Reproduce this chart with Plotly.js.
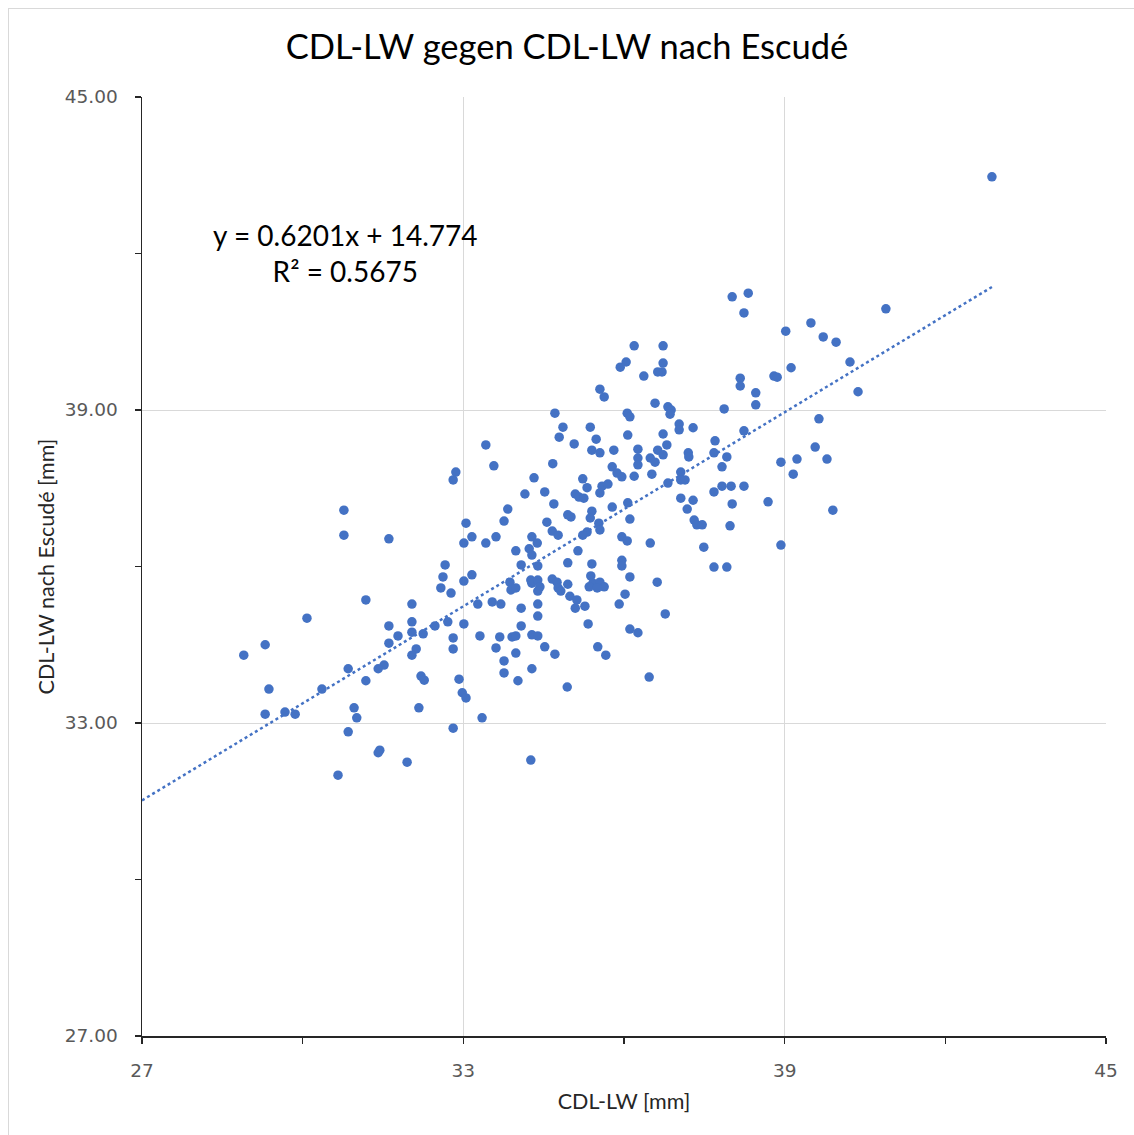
<!DOCTYPE html>
<html>
<head>
<meta charset="utf-8">
<script src="https://cdn.plot.ly/plotly-3.0.1.min.js"></script>
<style>
  html, body { margin: 0; padding: 0; background: #ffffff; }
  #wrap { position: relative; width: 1134px; height: 1135px; overflow: hidden; }
  #frame { position: absolute; left: 8px; top: 8px; width: 1140px; height: 1140px;
           border: 1.5px solid #d9d9d9; box-sizing: border-box; }
  #chart { position: absolute; left: 0; top: 0; width: 1134px; height: 1135px; }
</style>
</head>
<body>
<div id="wrap">
  <div id="frame"></div>
  <div id="chart"></div>
</div>
<script>
// CDL-LW measured (x) vs. CDL-LW after Escudé (y), in mm
const cdlLw = [
  30.77, 30.77, 31.61, 31.18, 30.08, 31.61, 29.30, 28.90, 31.61, 30.85, 31.52, 31.41,
  31.18, 29.37, 30.36, 29.30, 29.67, 29.86, 30.96, 31.01, 30.85, 31.44, 31.41, 30.66,
  31.95, 33.42, 33.57, 32.86, 32.81, 34.32, 34.15, 33.83, 33.76, 33.05, 33.16, 33.01,
  33.42, 33.61, 34.28, 33.98, 34.23, 34.28, 32.66, 32.62, 34.08, 32.58, 32.77, 33.01,
  33.16, 33.87, 33.89, 33.98, 34.28, 32.04, 33.27, 33.54, 33.70, 34.08, 32.04, 32.04,
  32.25, 32.47, 32.71, 33.01, 34.08, 34.28, 31.78, 32.81, 33.31, 33.68, 33.91, 33.98,
  32.12, 32.04, 32.81, 33.61, 33.98, 33.76, 33.76, 34.28, 32.21, 32.27, 32.92, 34.02,
  32.98, 33.05, 32.17, 33.35, 32.81, 34.26,
  35.55, 35.63, 34.71, 34.86, 34.79, 35.37, 35.07, 35.48, 35.40, 35.55, 35.81, 34.67,
  35.78, 35.87, 35.23, 35.31, 35.59, 35.70, 35.55, 34.52, 35.09, 35.16, 35.25, 34.69,
  35.78, 35.40, 35.37, 34.95, 35.01, 34.56, 35.53, 35.55, 34.66, 34.77, 35.31, 35.23,
  34.38, 35.14, 34.39, 34.95, 35.40, 35.96, 35.96, 34.26, 34.39, 34.43, 34.39, 34.66,
  34.75, 34.77, 34.82, 34.95, 35.38, 35.42, 35.35, 35.55, 35.63, 35.50, 34.99, 35.12,
  35.27, 35.09, 36.02, 35.91, 34.39, 34.39, 35.33, 34.39, 34.52, 34.71, 35.51, 35.66,
  34.94,
  36.19, 36.73, 36.04, 35.93, 36.73, 36.71, 36.63, 36.37, 36.58, 36.82, 36.88, 36.86,
  36.06, 36.11, 37.03, 37.03, 37.29, 36.07, 36.73, 36.80, 36.26, 36.26, 36.26, 36.63,
  36.73, 36.49, 36.58, 37.20, 37.21, 37.70, 37.68, 35.96, 36.19, 36.52, 37.06, 37.06,
  37.14, 36.82, 37.68, 37.06, 37.29, 36.07, 37.18, 36.11, 37.31, 37.36, 37.46, 35.96,
  36.06, 36.49, 37.49, 37.68, 36.11, 36.62, 36.77, 36.11, 36.26, 36.47,
  38.02, 38.32, 38.24, 39.02, 39.49, 39.72, 39.96, 40.22, 39.12, 38.17, 38.17, 38.80,
  38.86, 38.46, 40.37, 38.46, 37.87, 39.64, 38.24, 37.92, 37.83, 39.57, 39.23, 39.79,
  38.93, 39.16, 37.83, 38.00, 38.24, 38.02, 38.69, 39.90, 37.98, 38.93, 37.92,
  42.87, 40.89
];
const cdlLwEscude = [
  37.08, 36.60, 36.53, 35.36, 35.01, 34.86, 34.50, 34.30, 34.53, 34.04, 34.11, 34.04,
  33.81, 33.65, 33.65, 33.17, 33.21, 33.17, 33.29, 33.10, 32.83, 32.48, 32.43, 32.00,
  32.25, 38.33, 37.93, 37.81, 37.66, 37.70, 37.39, 37.10, 36.87, 36.83, 36.57, 36.45,
  36.45, 36.57, 36.57, 36.30, 36.34, 36.22, 36.03, 35.80, 36.03, 35.59, 35.49, 35.72,
  35.84, 35.70, 35.55, 35.59, 35.68, 35.28, 35.28, 35.32, 35.28, 35.20, 34.94, 34.74,
  34.71, 34.86, 34.94, 34.90, 34.86, 34.69, 34.67, 34.63, 34.67, 34.65, 34.65, 34.67,
  34.42, 34.30, 34.42, 34.44, 34.34, 34.19, 33.96, 34.04, 33.90, 33.82, 33.84, 33.81,
  33.58, 33.48, 33.29, 33.10, 32.90, 32.29,
  39.40, 39.25, 38.94, 38.67, 38.48, 38.67, 38.35, 38.44, 38.23, 38.18, 38.23, 37.97,
  37.91, 37.79, 37.68, 37.51, 37.54, 37.58, 37.41, 37.43, 37.39, 37.33, 37.31, 37.20,
  37.14, 37.06, 36.93, 36.99, 36.95, 36.85, 36.83, 36.70, 36.68, 36.60, 36.66, 36.60,
  36.45, 36.30, 36.01, 36.07, 36.05, 36.12, 36.01, 35.74, 35.74, 35.61, 35.53, 35.76,
  35.70, 35.59, 35.53, 35.66, 35.82, 35.68, 35.61, 35.70, 35.61, 35.59, 35.43, 35.36,
  35.24, 35.20, 35.47, 35.28, 35.28, 35.05, 34.90, 34.67, 34.46, 34.32, 34.46, 34.30,
  33.69,
  40.23, 40.23, 39.92, 39.82, 39.90, 39.73, 39.73, 39.65, 39.13, 39.06, 39.00, 38.92,
  38.94, 38.87, 38.73, 38.62, 38.66, 38.52, 38.54, 38.33, 38.25, 38.08, 37.95, 38.23,
  38.14, 38.08, 38.00, 38.18, 38.10, 38.41, 38.18, 37.72, 37.73, 37.77, 37.81, 37.66,
  37.66, 37.60, 37.43, 37.31, 37.27, 37.22, 37.10, 36.91, 36.89, 36.80, 36.80, 36.57,
  36.49, 36.45, 36.37, 35.99, 35.80, 35.70, 35.09, 34.80, 34.73, 33.88,
  41.17, 41.24, 40.86, 40.51, 40.67, 40.40, 40.30, 39.92, 39.81, 39.61, 39.46, 39.65,
  39.63, 39.33, 39.35, 39.10, 39.02, 38.83, 38.60, 38.10, 37.91, 38.29, 38.06, 38.06,
  38.00, 37.77, 37.54, 37.54, 37.54, 37.20, 37.24, 37.08, 36.78, 36.41, 35.99,
  43.47, 40.94
];

// Linear trendline as stated in the equation label
const slope = 0.6201;
const intercept = 14.774;
const rSquared = 0.5675;
const trendX = [27, Math.max(...cdlLw)];
const trendY = trendX.map(v => slope * v + intercept);

const majorTicks = [27, 33, 39, 45];
const minorTicks = [30, 36, 42];

const tickFont = { family: 'DejaVu Sans, sans-serif', size: 18.5, color: '#595959' };
const labelFont = { family: 'Lato, sans-serif', size: 21.5, color: '#262626' };

const traces = [
  {
    x: cdlLw, y: cdlLwEscude,
    type: 'scatter', mode: 'markers',
    marker: { color: '#4472C4', size: 9.5, line: { width: 0 } },
    hoverinfo: 'x+y', showlegend: false
  },
  {
    x: trendX, y: trendY,
    type: 'scatter', mode: 'lines',
    line: { color: '#4472C4', width: 2.5, dash: 'dot' },
    hoverinfo: 'skip', showlegend: false
  }
];

const layout = {
  width: 1134, height: 1135,
  margin: { l: 142, r: 28, t: 97, b: 99, pad: 0 },
  paper_bgcolor: 'rgba(0,0,0,0)',
  plot_bgcolor: 'rgba(0,0,0,0)',
  showlegend: false,
  title: {
    text: 'CDL-LW gegen CDL-LW nach Escudé',
    font: { family: 'Lato, sans-serif', size: 34.5, color: '#000000' },
    xref: 'container', x: 0.5, xanchor: 'center',
    yref: 'container', y: 1 - 47 / 1135, yanchor: 'middle'
  },
  xaxis: {
    range: [27, 45],
    tickmode: 'array', tickvals: majorTicks, ticktext: majorTicks.map(String),
    ticks: 'outside', ticklen: 6, tickwidth: 1.5, tickcolor: '#262626',
    tickfont: tickFont, ticklabelstandoff: 11,
    showgrid: true, gridcolor: '#d9d9d9', gridwidth: 1,
    showline: true, linecolor: '#262626', linewidth: 1.5,
    zeroline: false, fixedrange: true,
    minor: { tickvals: minorTicks, ticks: 'outside', ticklen: 6, tickwidth: 1.5, tickcolor: '#262626', showgrid: false },
    title: { text: 'CDL-LW [mm]', font: labelFont, standoff: 14 }
  },
  yaxis: {
    range: [27, 45],
    tickmode: 'array', tickvals: majorTicks, ticktext: majorTicks.map(v => v.toFixed(2)),
    ticks: 'outside', ticklen: 6, tickwidth: 1.5, tickcolor: '#262626',
    tickfont: tickFont, ticklabelstandoff: 13,
    showgrid: true, gridcolor: '#d9d9d9', gridwidth: 1,
    showline: true, linecolor: '#262626', linewidth: 1.5,
    zeroline: false, fixedrange: true,
    minor: { tickvals: minorTicks, ticks: 'outside', ticklen: 6, tickwidth: 1.5, tickcolor: '#262626', showgrid: false },
    title: { text: 'CDL-LW nach Escudé [mm]', font: labelFont, standoff: 4 }
  },
  annotations: [
    {
      xref: 'x', yref: 'y', x: 30.79, y: 42.01,
      xanchor: 'center', yanchor: 'middle', align: 'center',
      showarrow: false,
      text: 'y = ' + slope + 'x + ' + intercept + '<br>R² = ' + rSquared,
      font: { family: 'Lato, sans-serif', size: 28, color: '#000000' }
    }
  ]
};

Plotly.newPlot('chart', traces, layout, { displayModeBar: false, staticPlot: true });
</script>
</body>
</html>
